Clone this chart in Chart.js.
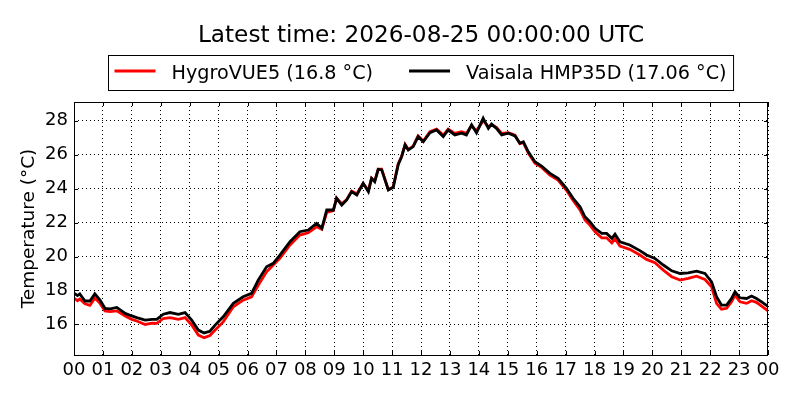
<!DOCTYPE html>
<html>
<head>
<meta charset="utf-8">
<script src="https://cdn.jsdelivr.net/npm/chart.js@4"></script>
<style>
  html, body { margin: 0; padding: 0; background: #fff; }
  #wrap { width: 800px; height: 400px; }
</style>
</head>
<body>
<div id="wrap"><canvas id="graphic" width="800" height="400"></canvas></div>
<script>
const titleText = "Latest time: 2026-08-25 00:00:00 UTC";

// hours since 00 UTC
const hours = [
    0.00, 0.12, 0.20, 0.38, 0.55, 0.72, 0.90, 1.07, 1.25, 1.48, 1.77, 2.00, 2.17, 2.46, 2.70, 2.86,
    3.09, 3.32, 3.61, 3.84, 4.07, 4.30, 4.50, 4.70, 4.88, 5.16, 5.51, 5.85, 6.14, 6.37, 6.66, 6.89,
    7.12, 7.47, 7.81, 8.10, 8.39, 8.57, 8.74, 8.97, 9.08, 9.26, 9.43, 9.60, 9.78, 10.00, 10.18, 10.29,
    10.40, 10.52, 10.64, 10.87, 11.04, 11.21, 11.33, 11.45, 11.56, 11.73, 11.90, 12.08, 12.31, 12.54, 12.77, 12.94,
    13.17, 13.40, 13.57, 13.75, 13.92, 14.15, 14.33, 14.44, 14.61, 14.79, 15.02, 15.25, 15.42, 15.54, 15.71, 15.94,
    16.17, 16.46, 16.74, 17.03, 17.26, 17.50, 17.67, 17.84, 18.02, 18.25, 18.42, 18.60, 18.71, 18.88, 19.22, 19.57,
    19.80, 20.09, 20.38, 20.67, 20.96, 21.24, 21.53, 21.82, 22.05, 22.22, 22.39, 22.57, 22.74, 22.86, 23.03, 23.26,
    23.43, 23.60, 23.78, 24.00
];

const hygroVUE5 = [
    17.55, 17.40, 17.50, 17.22, 17.12, 17.55, 17.24, 16.80, 16.75, 16.80, 16.50, 16.30, 16.20, 16.00, 16.08, 16.06,
    16.35, 16.40, 16.30, 16.40, 15.97, 15.37, 15.22, 15.35, 15.67, 16.15, 17.04, 17.43, 17.63, 18.30, 19.10, 19.50,
    19.90, 20.68, 21.26, 21.40, 21.75, 21.60, 22.60, 22.70, 23.45, 23.10, 23.35, 23.85, 23.70, 24.30, 23.90, 24.60,
    24.45, 25.15, 25.15, 23.95, 24.10, 25.45, 25.90, 26.60, 26.30, 26.50, 27.10, 26.80, 27.35, 27.50, 27.15, 27.50,
    27.25, 27.35, 27.25, 27.70, 27.40, 28.00, 27.65, 27.75, 27.60, 27.25, 27.30, 27.15, 26.65, 26.70, 26.10, 25.50,
    25.25, 24.80, 24.50, 23.90, 23.30, 22.75, 22.15, 21.85, 21.45, 21.10, 21.10, 20.80, 21.05, 20.62, 20.42, 20.09,
    19.83, 19.63, 19.20, 18.81, 18.61, 18.71, 18.84, 18.65, 18.22, 17.24, 16.90, 16.95, 17.33, 17.73, 17.33, 17.24,
    17.40, 17.30, 17.08, 16.80
];

const hmp35d = [
    17.85, 17.70, 17.80, 17.38, 17.38, 17.80, 17.43, 16.95, 16.92, 17.00, 16.65, 16.50, 16.40, 16.25, 16.30, 16.30,
    16.60, 16.70, 16.60, 16.70, 16.25, 15.67, 15.50, 15.60, 15.96, 16.45, 17.24, 17.63, 17.83, 18.60, 19.40, 19.60,
    20.08, 20.87, 21.46, 21.56, 21.95, 21.66, 22.74, 22.74, 23.43, 23.03, 23.33, 23.82, 23.62, 24.31, 23.82, 24.60,
    24.40, 25.13, 25.10, 23.92, 24.08, 25.40, 25.88, 26.57, 26.27, 26.47, 27.06, 26.76, 27.29, 27.45, 27.06, 27.45,
    27.16, 27.26, 27.16, 27.75, 27.29, 28.14, 27.55, 27.80, 27.55, 27.16, 27.26, 27.10, 26.67, 26.76, 26.17, 25.58,
    25.33, 24.90, 24.60, 24.02, 23.43, 22.93, 22.34, 22.05, 21.66, 21.36, 21.36, 21.07, 21.32, 20.87, 20.68, 20.35,
    20.09, 19.89, 19.50, 19.16, 19.00, 19.04, 19.14, 19.00, 18.51, 17.63, 17.14, 17.14, 17.53, 17.92, 17.57, 17.53,
    17.67, 17.53, 17.33, 17.06
];

const yMin = 14.2;
const yMax = 29.1;

const toPoints = (values) => values.map((v, i) => ({ x: hours[i], y: v }));
const lastOf = (values) => values[values.length - 1];
const pad2 = (n) => String(n % 24).padStart(2, '0');

const FONT = '"DejaVu Sans", "Liberation Sans", sans-serif';

/* title, framed legend, axes box and inward ticks, matplotlib classic look */
const framePlugin = {
    id: 'frame',
    afterDraw(chart) {
        const ctx = chart.ctx;
        const area = chart.chartArea;
        const xs = chart.scales.x;
        const ys = chart.scales.y;
        const cx = (area.left + area.right) / 2;

        ctx.save();
        ctx.fillStyle = '#000';
        ctx.font = '23.2px ' + FONT;
        ctx.textAlign = 'center';
        ctx.textBaseline = 'alphabetic';
        ctx.fillText(titleText, cx, 42);

        // legend
        ctx.font = '19.2px ' + FONT;
        ctx.textAlign = 'left';
        const sets = chart.data.datasets;
        const lineLen = 41, gapA = 16, gapB = 36, padL = 6, padR = 7;
        const widths = sets.map(d => ctx.measureText(d.label).width);
        let boxW = padL + padR;
        widths.forEach((w, i) => { boxW += lineLen + gapA + w + (i < sets.length - 1 ? gapB : 0); });
        const boxL = Math.round(cx - boxW / 2) + 0.5;
        const boxT = 55.5, boxH = 35;
        ctx.lineWidth = 1;
        ctx.strokeStyle = '#000';
        ctx.strokeRect(boxL, boxT, boxW, boxH);
        let x = boxL + padL;
        sets.forEach((d, i) => {
            ctx.beginPath();
            ctx.strokeStyle = d.borderColor;
            ctx.lineWidth = 3;
            ctx.moveTo(x, 71);
            ctx.lineTo(x + lineLen, 71);
            ctx.stroke();
            ctx.fillText(d.label, x + lineLen + gapA, 78.5);
            x += lineLen + gapA + widths[i] + gapB;
        });

        // axes frame
        ctx.strokeStyle = '#000';
        ctx.lineWidth = 1;
        ctx.strokeRect(area.left + 0.5, area.top + 0.5, area.right - area.left - 1, area.bottom - area.top);

        // inward ticks on all four sides
        ctx.beginPath();
        xs.ticks.forEach(t => {
            const px = Math.round(xs.getPixelForValue(t.value)) + 0.5;
            ctx.moveTo(px, area.bottom); ctx.lineTo(px, area.bottom - 4);
            ctx.moveTo(px, area.top); ctx.lineTo(px, area.top + 4);
        });
        ys.ticks.forEach(t => {
            const py = Math.round(ys.getPixelForValue(t.value)) + 0.5;
            ctx.moveTo(area.left, py); ctx.lineTo(area.left + 4, py);
            ctx.moveTo(area.right, py); ctx.lineTo(area.right - 4, py);
        });
        ctx.stroke();
        ctx.restore();
    }
};

const data = {
    datasets: [
        {
            label: `HygroVUE5 (${lastOf(hygroVUE5)} °C)`,
            data: toPoints(hygroVUE5),
            borderColor: '#ff0000',
            borderWidth: 2.8,
            pointRadius: 0,
            tension: 0,
            order: 1
        },
        {
            label: `Vaisala HMP35D (${lastOf(hmp35d)} °C)`,
            data: toPoints(hmp35d),
            borderColor: '#000000',
            borderWidth: 2.8,
            pointRadius: 0,
            tension: 0,
            order: 0
        }
    ]
};

const gridStyle = {
    color: '#000',
    lineWidth: 1,
    drawTicks: false
};

const config = {
    type: 'line',
    data: data,
    options: {
        responsive: false,
        animation: false,
        devicePixelRatio: 1,
        layout: { padding: { top: 102, right: 32, left: 0, bottom: 0 } },
        plugins: {
            legend: { display: false },
            title: { display: false },
            tooltip: { enabled: false }
        },
        scales: {
            x: {
                type: 'linear',
                min: 0,
                max: 24,
                afterFit: (scale) => { scale.height = 45; },
                ticks: {
                    stepSize: 1,
                    autoSkip: false,
                    maxRotation: 0,
                    includeBounds: false,
                    padding: 5,
                    color: '#000',
                    font: { family: FONT, size: 18 },
                    callback: (value) => pad2(value)
                },
                grid: gridStyle,
                border: { display: false, dash: [1, 3] }
            },
            y: {
                type: 'linear',
                min: yMin,
                max: yMax,
                afterFit: (scale) => { scale.width = 74; },
                ticks: {
                    stepSize: 2,
                    includeBounds: false,
                    padding: 6,
                    color: '#000',
                    font: { family: FONT, size: 18 }
                },
                title: {
                    display: true,
                    text: 'Temperature (°C)',
                    color: '#000',
                    font: { family: FONT, size: 18.5 },
                    padding: { top: 18, bottom: 0 }
                },
                grid: gridStyle,
                border: { display: false, dash: [1, 3] }
            }
        }
    },
    plugins: [framePlugin]
};

new Chart(document.querySelector('#graphic'), config);
</script>
</body>
</html>
